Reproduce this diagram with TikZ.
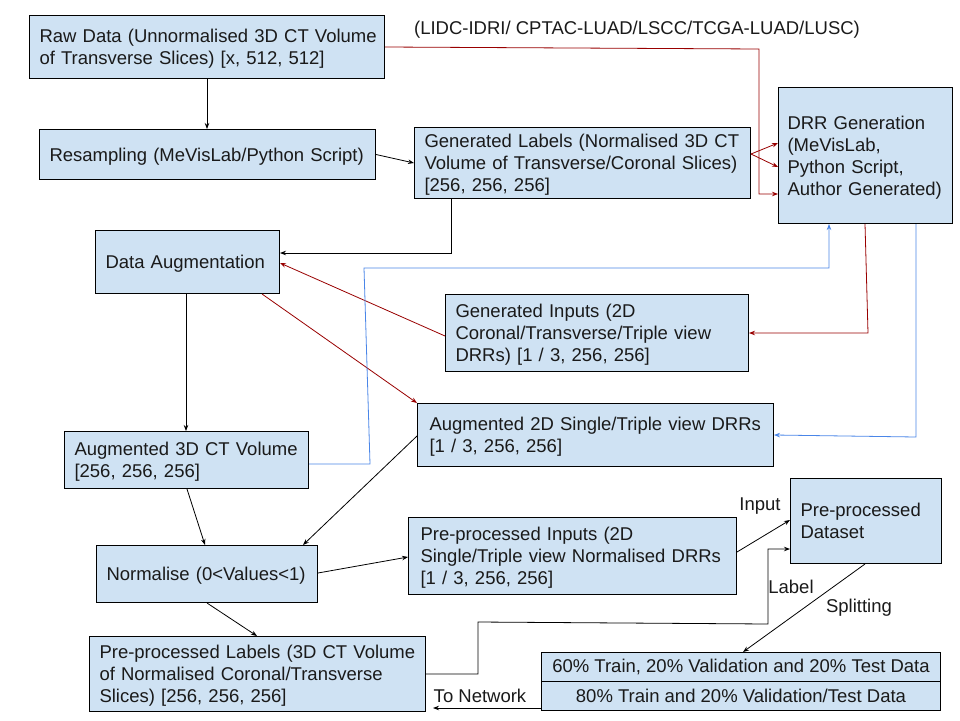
\documentclass[tikz,border=0pt]{standalone}
\usepackage{fontspec}
\setmainfont{Liberation Sans}
\usetikzlibrary{arrows.meta}
\definecolor{boxblue}{HTML}{CFE2F3}
\definecolor{lred}{HTML}{990000}
\definecolor{lblue}{HTML}{4A86E8}
\definecolor{txt}{HTML}{1A1A1A}
\newcommand{\lns}[1]{\raisebox{-2.5pt}[\height][\depth]{\begin{tabular}{@{}l@{}}#1\end{tabular}}}
\newcommand{\fsz}{\fontsize{18.5}{22}\selectfont}
\begin{document}
\begin{tikzpicture}[x=1pt,y=-1pt,
  box/.style={draw=black, fill=boxblue, line width=1pt, anchor=north west, inner sep=0pt, align=left, font=\fsz, text=txt},
  cbox/.style={draw=black, fill=boxblue, line width=1pt, anchor=north west, inner sep=0pt, align=center, font=\fsz, text=txt},
  labtext/.style={font=\fsz, inner sep=0pt, text=txt},
  arr/.style={draw=black, line width=0.8pt, -{Stealth[length=6pt,width=4.5pt]}},
  rarr/.style={draw=lred, line width=0.8pt, -{Stealth[length=6pt,width=4.5pt]}},
  barr/.style={draw=lblue, line width=0.8pt, -{Stealth[length=6pt,width=4.5pt]}}]
\useasboundingbox (0,0) rectangle (960,720);
\fill[white] (0,0) rectangle (960,720);

% boxes
\node[box, minimum width=355pt, minimum height=63pt, text width=335pt] (raw) at (29,15)
  {\lns{Raw Data (Unnormalised 3D CT Volume\\of Transverse Slices) [x, 512, 512]}};
\node[box, minimum width=336pt, minimum height=50pt, text width=316pt] (res) at (39,129)
  {\lns{Resampling (MeVisLab/Python Script)}};
\node[box, minimum width=336pt, minimum height=71pt, text width=316pt] (gen) at (414,127)
  {\lns{Generated Labels (Normalised 3D CT\\Volume of Transverse/Coronal Slices)\\{}[256, 256, 256]}};
\node[box, minimum width=174pt, minimum height=136pt, text width=156pt] (drr) at (778,87)
  {\lns{DRR Generation\\(MeVisLab,\\Python Script,\\Author Generated)}};
\node[box, minimum width=184pt, minimum height=63pt, text width=164pt] (dataaug) at (95,230)
  {\lns{Data Augmentation}};
\node[box, minimum width=303pt, minimum height=77pt, text width=283pt] (ginp) at (445,294)
  {\lns{Generated Inputs (2D\\Coronal/Transverse/Triple view\\DRRs) [1 / 3, 256, 256]}};
\node[box, minimum width=356pt, minimum height=63pt, text width=332pt] (aug2d) at (417,403)
  {\lns{Augmented 2D Single/Triple view DRRs\\{}[1 / 3, 256, 256]}};
\node[box, minimum width=244pt, minimum height=57pt, text width=224pt] (aug3d) at (64,431)
  {\lns{Augmented 3D CT Volume\\{}[256, 256, 256]}};
\node[box, minimum width=221pt, minimum height=57pt, text width=201pt] (norm) at (96,545)
  {\lns{Normalise (0<Values<1)}};
\node[box, minimum width=328pt, minimum height=77pt, text width=304pt] (pinp) at (408,517)
  {\lns{Pre-processed Inputs (2D\\Single/Triple view Normalised DRRs\\{}[1 / 3, 256, 256]}};
\node[box, minimum width=151pt, minimum height=85pt, text width=131pt] (dataset) at (790,478)
  {\lns{Pre-processed\\Dataset}};
\node[box, minimum width=336pt, minimum height=75pt, text width=316pt] (plab) at (89,636)
  {\lns{Pre-processed Labels (3D CT Volume\\of Normalised Coronal/Transverse\\Slices) [256, 256, 256]}};
\node[cbox, minimum width=399pt, minimum height=29pt] (split1) at (541,652)
  {60\% Train, 20\% Validation and 20\% Test Data};
\node[cbox, minimum width=399pt, minimum height=29pt] (split2) at (541,681)
  {80\% Train and 20\% Validation/Test Data};

% free labels
\node[labtext] (src) at (637,30) {(LIDC-IDRI/ CPTAC-LUAD/LSCC/TCGA-LUAD/LUSC)};
\node[labtext] (inlab) at (760,506) {Input};
\node[labtext] (lablab) at (791,587) {Label};
\node[labtext] (spllab) at (859,608) {Splitting};
\node[labtext] (netlab) at (480,696) {To Network};

% connectors
\draw[arr] (raw.south -| 207,0) -- (res.north -| 207,0);
\draw[arr] (res.east) -- (gen.west |- 0,163);
\draw[rarr] (raw.east |- 0,47) -- (759,49) -- (759,194) -- (drr.west |- 0,194);
\draw[rarr] (gen.east |- 0,154) -- (drr.west |- 0,143);
\draw[rarr] (gen.east |- 0,154) -- (drr.west |- 0,167);
\draw[arr] (gen.south -| 451,0) -- (451,253) -- (dataaug.east |- 0,253);
\draw[rarr] (ginp.west |- 0,336) -- (dataaug.east |- 0,263);
\draw[rarr] (dataaug.south -| 262,0) -- (aug2d.north west);
\draw[arr] (dataaug.south -| 186,0) -- (aug3d.north -| 186,0);
\draw[rarr] (drr.south -| 865,0) -- (868,333) -- (ginp.east |- 0,333);
\draw[barr] (drr.south -| 916,0) -- (916,437) -- (aug2d.east |- 0,435);
\draw[barr] (aug3d.east |- 0,464) -- (370,464) -- (364,268) -- (829,268) -- (drr.south -| 829,0);
\draw[arr] (aug2d.west |- 0,436) -- (norm.north -| 303,0);
\draw[arr] (aug3d.south -| 187,0) -- (norm.north -| 205,0);
\draw[arr] (norm.south -| 207,0) -- (plab.north -| 257,0);
\draw[arr] (norm.east |- 0,573) -- (pinp.west |- 0,557);
\draw[arr] (pinp.east |- 0,552) -- (dataset.west |- 0,520);
\draw[arr] (plab.east |- 0,674) -- (478,674) -- (478,622) -- (768,624) -- (768,549) -- (dataset.west |- 0,549);
\draw[arr] (dataset.south -| 865,0) -- (split1.north -| 743,0);
\draw[arr, shorten >=7pt] (split2.west |- 0,708) -- (plab.east |- 0,708);
\end{tikzpicture}
\end{document}
